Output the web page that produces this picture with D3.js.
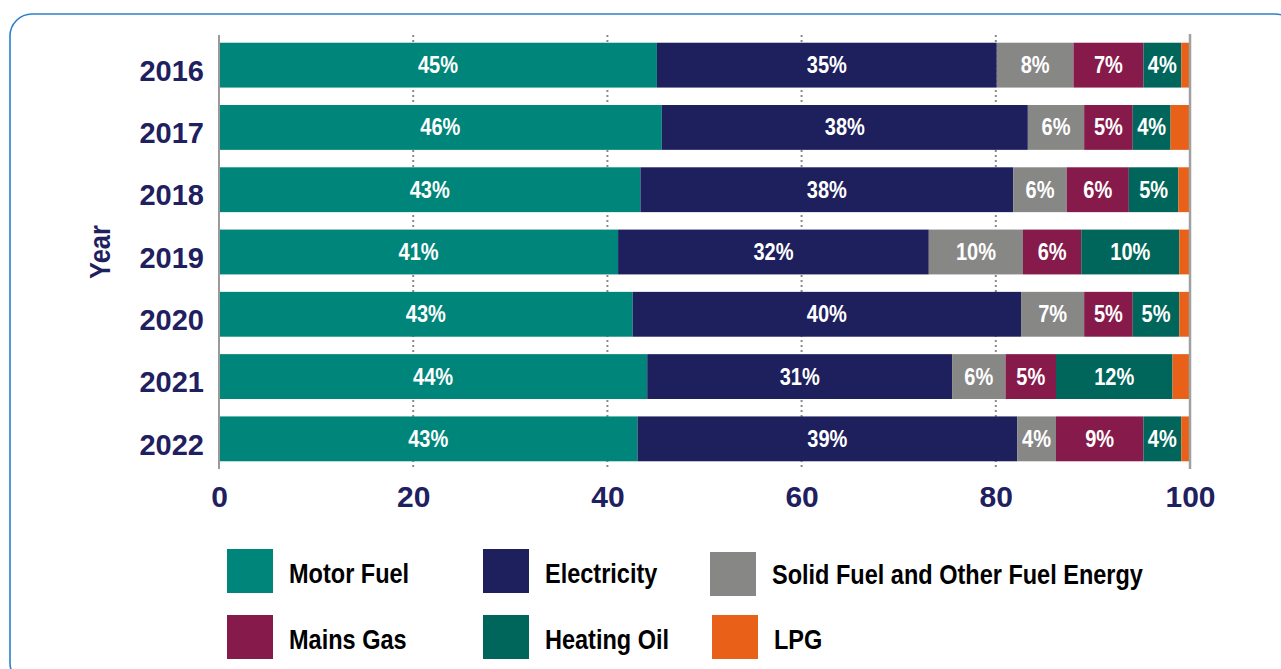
<!DOCTYPE html>
<html>
<head>
<meta charset="utf-8">
<script src="https://cdn.jsdelivr.net/npm/d3@7/dist/d3.min.js"></script>
<style>
  html, body { margin: 0; padding: 0; background: #fff; overflow: hidden; }
  svg { display: block; }
</style>
</head>
<body>
<svg id="chart" width="1281" height="669"></svg>
<script>
// ---- data ----
const years = ["2016", "2017", "2018", "2019", "2020", "2021", "2022"];
const seriesNames = ["Motor Fuel", "Electricity", "Solid Fuel and Other Fuel Energy", "Mains Gas", "Heating Oil", "LPG"];
const motorFuel   = [45.1, 45.6, 43.4, 41.1, 42.6, 44.1, 43.1];
const electricity = [35.0, 37.7, 38.4, 32.0, 40.0, 31.4, 39.1];
const solidFuel   = [7.9,  5.8,  5.5,  9.7,  6.5,  5.5,  4.0];
const mainsGas    = [7.2,  5.0,  6.4,  6.0,  5.0,  5.2,  9.0];
const heatingOil  = [3.9,  3.9,  5.1,  10.1, 4.8,  12.0, 3.9];
const lpg         = [0.9,  2.0,  1.2,  1.1,  1.1,  1.8,  0.9];
const xTicks = [0, 20, 40, 60, 80, 100];
const gridTicks = [20, 40, 60, 80];

const colors = ["#00857a", "#1e1f5d", "#878786", "#861a4a", "#00655a", "#e96119"];
const seriesValues = [motorFuel, electricity, solidFuel, mainsGas, heatingOil, lpg];

const rows = years.map((y, i) => {
  const r = { year: y };
  seriesNames.forEach((s, k) => r[s] = seriesValues[k][i]);
  return r;
});

const svg = d3.select("#chart");
const condensedFont = "'Liberation Sans Narrow', 'Liberation Sans', Arial, sans-serif";

// border
svg.append("rect")
  .attr("x", 10).attr("y", 14)
  .attr("width", 1287).attr("height", 671)
  .attr("rx", 22).attr("ry", 22)
  .attr("fill", "none")
  .attr("stroke", "#2a80cc")
  .attr("stroke-width", 1.6);

const x = d3.scaleLinear().domain([0, 100]).range([219, 1190]);
const y = d3.scaleBand().domain(years).range([34, 470]).paddingInner(0.28).paddingOuter(0.14);

const navy = "#1f2060";

// gridlines (dotted)
svg.append("g").selectAll("line").data(gridTicks).join("line")
  .attr("x1", d => x(d)).attr("x2", d => x(d))
  .attr("y1", 35).attr("y2", 469)
  .attr("stroke", "#8a8a8a")
  .attr("stroke-width", 2)
  .attr("stroke-dasharray", "2,3");

// stacked bars
const stack = d3.stack().keys(seriesNames);
const stacked = stack(rows);

const layers = svg.append("g").selectAll("g").data(stacked).join("g")
  .attr("fill", (d, i) => colors[i]);

layers.selectAll("rect").data(d => d).join("rect")
  .attr("x", d => x(d[0]))
  .attr("y", d => y(d.data.year))
  .attr("width", d => x(d[1]) - x(d[0]))
  .attr("height", y.bandwidth());

// value labels
const labelG = svg.append("g");
stacked.forEach(layer => {
  layer.forEach(d => {
    const v = d[1] - d[0];
    if (v < 3) return;
    const cx = (x(d[0]) + x(d[1])) / 2;
    const cy = y(d.data.year) + y.bandwidth() / 2 + 8;
    labelG.append("text")
      .attr("transform", `translate(${cx},${cy}) scale(0.87,1)`)
      .attr("text-anchor", "middle")
      .attr("fill", "#fff")
      .attr("font-family", condensedFont)
      .attr("font-weight", "bold")
      .attr("font-size", 23)
      .text(Math.round(v) + "%");
  });
});

// axis lines (left and right)
svg.append("line").attr("x1", x(0)).attr("x2", x(0)).attr("y1", 35).attr("y2", 469)
  .attr("stroke", "#9a9a9a").attr("stroke-width", 2);
svg.append("line").attr("x1", x(100)).attr("x2", x(100)).attr("y1", 34).attr("y2", 469)
  .attr("stroke", "#a0a0a0").attr("stroke-width", 2.5);

// x axis via d3 axis
const xAxis = d3.axisBottom(x).tickValues(xTicks).tickSize(0).tickPadding(0);
const xg = svg.append("g").attr("transform", "translate(0,485)").call(xAxis);
xg.select(".domain").remove();
xg.selectAll("text")
  .attr("fill", navy)
  .attr("font-family", "'Liberation Sans', Arial, sans-serif")
  .attr("font-weight", "bold")
  .attr("font-size", 30)
  .attr("dy", "0.72em");

// y axis
const yAxis = d3.axisLeft(y).tickSize(0).tickPadding(0);
const yg = svg.append("g").attr("transform", "translate(204,0)").call(yAxis);
yg.select(".domain").remove();
yg.selectAll("text")
  .attr("fill", navy)
  .attr("font-family", "'Liberation Sans', Arial, sans-serif")
  .attr("font-weight", "bold")
  .attr("font-size", 29)
  .attr("dy", "0.54em");

// y title
svg.append("text")
  .attr("transform", "translate(110,252) rotate(-90) scale(0.85,1)")
  .attr("text-anchor", "middle")
  .attr("fill", navy)
  .attr("font-family", condensedFont)
  .attr("font-weight", "bold")
  .attr("font-size", 30)
  .text("Year");

// legend
const legendPos = [
  { sx: 227, sy: 549, tx: 289, ty: 583 },
  { sx: 483, sy: 549, tx: 545, ty: 583 },
  { sx: 710, sy: 552, tx: 772, ty: 584 },
  { sx: 227, sy: 615, tx: 289, ty: 649 },
  { sx: 483, sy: 615, tx: 545, ty: 649 },
  { sx: 712, sy: 615, tx: 774, ty: 649 }
];
const lg = svg.append("g");
seriesNames.forEach((name, i) => {
  const p = legendPos[i];
  lg.append("rect").attr("x", p.sx).attr("y", p.sy).attr("width", 46).attr("height", 44).attr("fill", colors[i]);
  lg.append("text")
    .attr("transform", `translate(${p.tx},${p.ty}) scale(0.84,1)`)
    .attr("fill", "#000")
    .attr("font-family", condensedFont)
    .attr("font-weight", "bold")
    .attr("font-size", 28)
    .text(name);
});
</script>
</body>
</html>
